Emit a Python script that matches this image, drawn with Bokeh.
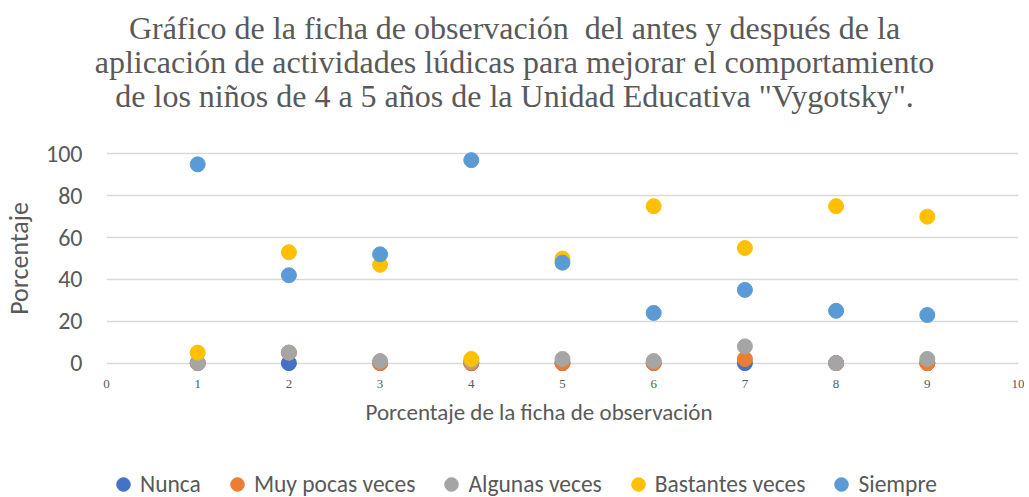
from bokeh.plotting import figure
from bokeh.models import Legend, LegendItem, FixedTicker, Range1d, ColumnDataSource, Div, Title
from bokeh.layouts import column
from bokeh.embed import file_html
from bokeh.resources import INLINE

x_vals = [1, 2, 3, 4, 5, 6, 7, 8, 9]
nunca = [0, 0, 0, 0, 0, 0, 0, 0, 0]
muy_pocas = [0, 5, 0, 0, 0, 0, 2, 0, 0]
algunas = [0, 5, 1, 1, 2, 1, 8, 0, 2]
bastantes = [5, 53, 47, 2, 50, 75, 55, 75, 70]
siempre = [95, 42, 52, 97, 48, 24, 35, 25, 23]

series_names = ["Nunca", "Muy pocas veces", "Algunas veces", "Bastantes veces", "Siempre"]
series_vals = [nunca, muy_pocas, algunas, bastantes, siempre]
colors = ["#4472C4", "#ED7D31", "#A5A5A5", "#FFC000", "#5B9BD5"]

x_ticks = [0, 1, 2, 3, 4, 5, 6, 7, 8, 9, 10]
y_ticks = [0, 20, 40, 60, 80, 100]

title_lines = ["Gráfico de la ficha de observación&nbsp; del antes y después de la",
               "aplicación de actividades lúdicas para mejorar el comportamiento",
               "de los niños de 4 a 5 años de la Unidad Educativa \"Vygotsky\"."]
x_title = "Porcentaje de la ficha de observación"
y_title = "Porcentaje"

SANS = "Carlito, Lato, sans-serif"
serif = "Liberation Serif"
grey = "#595959"

title_html = ('<div style="position:relative; left:8px; width:1013px; text-align:center; '
              'font-family:\'Liberation Serif\', serif; font-size:32px; line-height:34px; '
              'color:%s; padding-top:11px;">%s</div>' % (grey, "<br>".join(title_lines)))
title_div = Div(text=title_html, width=1013, height=128, margin=0)

p = figure(frame_width=912, frame_height=226, output_backend="svg", toolbar_location=None,
           x_range=Range1d(0, 10), y_range=Range1d(-4, 104),
           min_border_left=95, min_border_right=6, min_border_top=17, min_border_bottom=70,
           margin=0)

p.outline_line_color = None
p.xgrid.grid_line_color = None
p.ygrid.grid_line_color = "#D9D9D9"
p.ygrid.grid_line_width = 1.3
p.ygrid.ticker = FixedTicker(ticks=y_ticks)

p.xaxis.ticker = FixedTicker(ticks=x_ticks)
p.xaxis.axis_line_color = None
p.xaxis.major_tick_line_color = None
p.xaxis.minor_tick_line_color = None
p.xaxis.major_label_text_font = serif
p.xaxis.major_label_text_font_size = "13px"
p.xaxis.major_label_text_color = grey
p.xaxis.major_label_standoff = 2

p.add_layout(Title(text=x_title, align="left", offset=259, standoff=10,
                   text_font=SANS, text_font_size="23px", text_font_style="normal",
                   text_color=grey), "below")

p.yaxis.ticker = FixedTicker(ticks=y_ticks)
p.yaxis.axis_line_color = None
p.yaxis.major_tick_line_color = None
p.yaxis.minor_tick_line_color = None
p.yaxis.major_label_text_font = SANS
p.yaxis.major_label_text_font_size = "24px"
p.yaxis.major_label_text_color = grey
p.yaxis.major_label_standoff = 18
p.yaxis.axis_label = y_title
p.yaxis.axis_label_text_font = SANS
p.yaxis.axis_label_text_font_size = "26px"
p.yaxis.axis_label_text_font_style = "normal"
p.yaxis.axis_label_text_color = grey
p.yaxis.axis_label_standoff = 8

for vals, c in zip(series_vals, colors):
    src = ColumnDataSource(dict(x=x_vals, y=vals))
    p.scatter("x", "y", source=src, size=15, fill_color=c, line_color=c)

# legend strip below the chart (its own renderers lie outside its view)
lg = figure(width=1013, height=56, output_backend="svg", toolbar_location=None,
            x_range=Range1d(100, 101), y_range=Range1d(100, 101),
            x_axis_type=None, y_axis_type=None,
            min_border_left=81, min_border_right=0, min_border_top=26,
            min_border_bottom=0, margin=0)
lg.outline_line_color = None
lg.xgrid.visible = False
lg.ygrid.visible = False

items = []
for name, vals, c in zip(series_names, series_vals, colors):
    src = ColumnDataSource(dict(x=x_vals, y=vals))
    r = lg.scatter("x", "y", source=src, size=15, fill_color=c, line_color=c)
    items.append(LegendItem(label=name, renderers=[r]))

legend = Legend(items=items, orientation="horizontal", location="top_left",
                label_text_font=SANS, label_text_font_size="23.5px",
                label_text_color=grey, border_line_color=None, background_fill_alpha=0,
                spacing=19, glyph_width=34, glyph_height=34, label_standoff=0,
                padding=0, margin=0)
lg.add_layout(legend, "center")

layout = column(title_div, p, lg, spacing=0, margin=0)
open("out.html", "w").write(file_html(layout, INLINE))
